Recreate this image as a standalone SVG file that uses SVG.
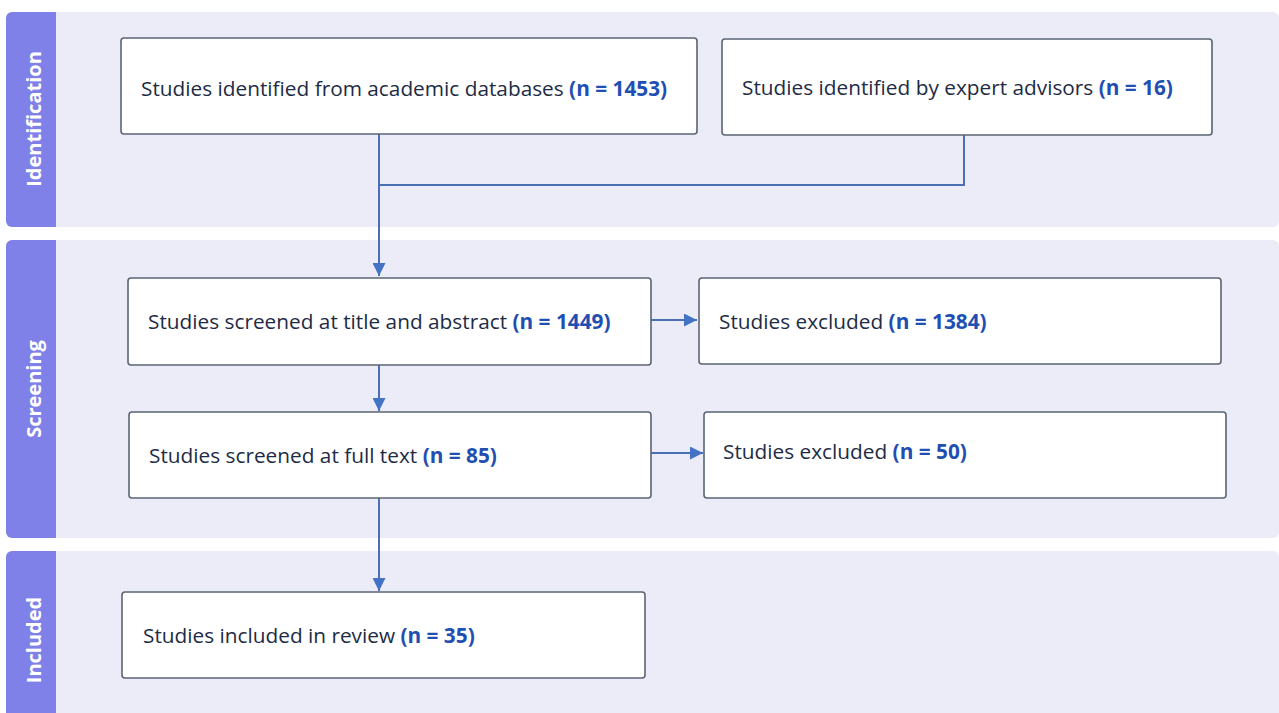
<svg xmlns="http://www.w3.org/2000/svg" width="1279" height="713" viewBox="0 0 1279 713">
<style>
.band{fill:#ECECF8}
.strip{fill:#7F81E8}
.lbl{font-family:"Open Sans","Liberation Sans",sans-serif;font-size:20px;font-weight:bold;fill:#FFFFFF;text-anchor:middle}
.box{fill:#FFFFFF;stroke:#5B6474;stroke-width:1.6}
.t{font-family:"Open Sans","Liberation Sans",sans-serif;font-size:20.8px;fill:#1E2B45}
.n{font-weight:bold;fill:#1F4FB3}
.c{fill:none;stroke:#4A6FB5;stroke-width:2}
</style>
<defs>
<marker id="ah" viewBox="0 0 13 13" refX="13" refY="6.5" markerWidth="13" markerHeight="13" markerUnits="userSpaceOnUse" orient="auto">
<path d="M0,0 L13,6.5 L0,13 Z" fill="#4472C4"/>
</marker>
</defs>
<rect width="1279" height="713" fill="#FFFFFF"/>
<g id="band-identification">
<rect class="band" x="6" y="12" width="1273" height="215" rx="6"/>
<path class="strip" d="M56,12 V227 H12 a6,6 0 0 1 -6,-6 V18 a6,6 0 0 1 6,-6 Z"/>
<text class="lbl" transform="translate(41,119) rotate(-90)">Identification</text>
</g>
<g id="band-screening">
<rect class="band" x="6" y="240" width="1273" height="298" rx="6"/>
<path class="strip" d="M56,240 V538 H12 a6,6 0 0 1 -6,-6 V246 a6,6 0 0 1 6,-6 Z"/>
<text class="lbl" transform="translate(41,389) rotate(-90)">Screening</text>
</g>
<g id="band-included">
<rect class="band" x="6" y="551" width="1273" height="170" rx="6"/>
<path class="strip" d="M56,551 V713 H6 V557 a6,6 0 0 1 6,-6 Z"/>
<text class="lbl" transform="translate(41,640) rotate(-90)">Included</text>
</g>
<g id="connectors">
<path class="c" d="M379,134 V276" marker-end="url(#ah)"/>
<path class="c" d="M964,135 V185 H379"/>
<path class="c" d="M651,320 H697" marker-end="url(#ah)"/>
<path class="c" d="M379,365 V411" marker-end="url(#ah)"/>
<path class="c" d="M651,453 H703" marker-end="url(#ah)"/>
<path class="c" d="M379,498 V591" marker-end="url(#ah)"/>
</g>
<g id="node-databases">
<rect class="box" x="121" y="38" width="576" height="96" rx="3"/>
<text class="t" x="141" y="96">Studies identified from academic databases <tspan class="n">(n = 1453)</tspan></text>
</g>
<g id="node-advisors">
<rect class="box" x="722" y="39" width="490" height="96" rx="3"/>
<text class="t" x="742" y="95">Studies identified by expert advisors <tspan class="n">(n = 16)</tspan></text>
</g>
<g id="node-screened-title">
<rect class="box" x="128" y="278" width="523" height="87" rx="3"/>
<text class="t" x="148" y="329">Studies screened at title and abstract <tspan class="n">(n = 1449)</tspan></text>
</g>
<g id="node-excluded-1">
<rect class="box" x="699" y="278" width="522" height="86" rx="3"/>
<text class="t" x="719" y="329">Studies excluded <tspan class="n">(n = 1384)</tspan></text>
</g>
<g id="node-screened-full">
<rect class="box" x="129" y="412" width="522" height="86" rx="3"/>
<text class="t" x="149" y="463">Studies screened at full text <tspan class="n">(n = 85)</tspan></text>
</g>
<g id="node-excluded-2">
<rect class="box" x="704" y="412" width="522" height="86" rx="3"/>
<text class="t" x="723" y="459">Studies excluded <tspan class="n">(n = 50)</tspan></text>
</g>
<g id="node-included">
<rect class="box" x="122" y="592" width="523" height="86" rx="3"/>
<text class="t" x="143" y="643">Studies included in review <tspan class="n">(n = 35)</tspan></text>
</g>
</svg>
